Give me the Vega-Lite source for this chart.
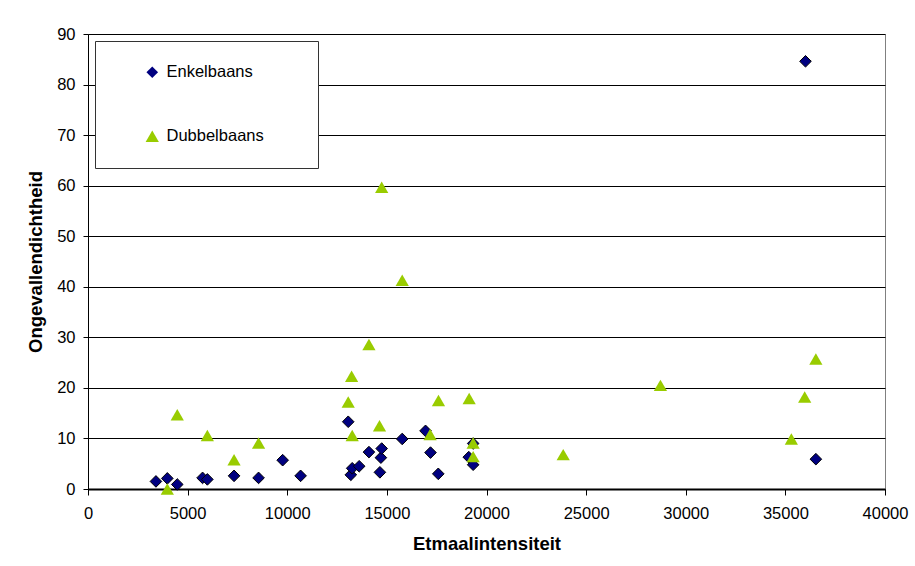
{
  "$schema": "https://vega.github.io/schema/vega-lite/v6.json",
  "width": 797,
  "height": 455,
  "autosize": {"type": "none"},
  "padding": {"left": 88, "top": 34, "right": 30, "bottom": 77},
  "background": "white",
  "data": {
    "values": [
      {"type": "Enkelbaans", "etmaal": 3410, "dichtheid": 1.5},
      {"type": "Enkelbaans", "etmaal": 3980, "dichtheid": 2.1},
      {"type": "Enkelbaans", "etmaal": 4480, "dichtheid": 0.9},
      {"type": "Enkelbaans", "etmaal": 5750, "dichtheid": 2.2},
      {"type": "Enkelbaans", "etmaal": 5990, "dichtheid": 1.9},
      {"type": "Enkelbaans", "etmaal": 7330, "dichtheid": 2.6},
      {"type": "Enkelbaans", "etmaal": 8560, "dichtheid": 2.2},
      {"type": "Enkelbaans", "etmaal": 9770, "dichtheid": 5.7},
      {"type": "Enkelbaans", "etmaal": 10670, "dichtheid": 2.6},
      {"type": "Enkelbaans", "etmaal": 13060, "dichtheid": 13.3},
      {"type": "Enkelbaans", "etmaal": 13190, "dichtheid": 2.8},
      {"type": "Enkelbaans", "etmaal": 13260, "dichtheid": 4.1},
      {"type": "Enkelbaans", "etmaal": 13610, "dichtheid": 4.5},
      {"type": "Enkelbaans", "etmaal": 14100, "dichtheid": 7.3},
      {"type": "Enkelbaans", "etmaal": 14650, "dichtheid": 3.3},
      {"type": "Enkelbaans", "etmaal": 14700, "dichtheid": 6.2},
      {"type": "Enkelbaans", "etmaal": 14740, "dichtheid": 8.0},
      {"type": "Enkelbaans", "etmaal": 15770, "dichtheid": 9.9},
      {"type": "Enkelbaans", "etmaal": 16940, "dichtheid": 11.5},
      {"type": "Enkelbaans", "etmaal": 17190, "dichtheid": 7.2},
      {"type": "Enkelbaans", "etmaal": 17580, "dichtheid": 3.0},
      {"type": "Enkelbaans", "etmaal": 19110, "dichtheid": 6.3},
      {"type": "Enkelbaans", "etmaal": 19330, "dichtheid": 4.8},
      {"type": "Enkelbaans", "etmaal": 19330, "dichtheid": 9.0},
      {"type": "Enkelbaans", "etmaal": 36010, "dichtheid": 84.6},
      {"type": "Enkelbaans", "etmaal": 36530, "dichtheid": 5.9},
      {"type": "Dubbelbaans", "etmaal": 3980, "dichtheid": 0.0},
      {"type": "Dubbelbaans", "etmaal": 4480, "dichtheid": 14.7},
      {"type": "Dubbelbaans", "etmaal": 5990, "dichtheid": 10.6},
      {"type": "Dubbelbaans", "etmaal": 7330, "dichtheid": 5.8},
      {"type": "Dubbelbaans", "etmaal": 8560, "dichtheid": 9.1},
      {"type": "Dubbelbaans", "etmaal": 13060, "dichtheid": 17.2},
      {"type": "Dubbelbaans", "etmaal": 13230, "dichtheid": 22.3},
      {"type": "Dubbelbaans", "etmaal": 13260, "dichtheid": 10.6},
      {"type": "Dubbelbaans", "etmaal": 14100, "dichtheid": 28.6},
      {"type": "Dubbelbaans", "etmaal": 14630, "dichtheid": 12.5},
      {"type": "Dubbelbaans", "etmaal": 14740, "dichtheid": 59.7},
      {"type": "Dubbelbaans", "etmaal": 15770, "dichtheid": 41.3},
      {"type": "Dubbelbaans", "etmaal": 17170, "dichtheid": 10.8},
      {"type": "Dubbelbaans", "etmaal": 17590, "dichtheid": 17.5},
      {"type": "Dubbelbaans", "etmaal": 19130, "dichtheid": 17.9},
      {"type": "Dubbelbaans", "etmaal": 19330, "dichtheid": 9.1},
      {"type": "Dubbelbaans", "etmaal": 19330, "dichtheid": 6.4},
      {"type": "Dubbelbaans", "etmaal": 23850, "dichtheid": 6.8},
      {"type": "Dubbelbaans", "etmaal": 28730, "dichtheid": 20.5},
      {"type": "Dubbelbaans", "etmaal": 35300, "dichtheid": 9.9},
      {"type": "Dubbelbaans", "etmaal": 35970, "dichtheid": 18.2},
      {"type": "Dubbelbaans", "etmaal": 36530, "dichtheid": 25.7}
    ]
  },
  "mark": {"type": "point", "filled": true, "opacity": 1, "strokeWidth": 1},
  "encoding": {
    "x": {
      "field": "etmaal",
      "type": "quantitative",
      "scale": {"domain": [0, 40000], "nice": false, "zero": true},
      "axis": {
        "title": "Etmaalintensiteit",
        "values": [0, 5000, 10000, 15000, 20000, 25000, 30000, 35000, 40000],
        "format": "d",
        "grid": false,
        "labelFlush": false,
        "labelOverlap": false,
        "tickSize": 6,
        "labelPadding": 10,
        "titlePadding": 13,
        "domainWidth": 2
      }
    },
    "y": {
      "field": "dichtheid",
      "type": "quantitative",
      "scale": {"domain": [0, 90], "nice": false},
      "axis": {
        "title": "Ongevallendichtheid",
        "values": [0, 10, 20, 30, 40, 50, 60, 70, 80, 90],
        "grid": true,
        "gridColor": "#000000",
        "gridWidth": 1,
        "gridOpacity": 1,
        "tickSize": 5,
        "labelPadding": 8,
        "titlePadding": 11,
        "domainWidth": 1
      }
    },
    "color": {
      "field": "type",
      "type": "nominal",
      "scale": {"domain": ["Enkelbaans", "Dubbelbaans"], "range": ["#000080", "#99CC00"]},
      "legend": {
        "orient": "none",
        "legendX": 7,
        "legendY": 7,
        "title": null,
        "padding": 23,
        "fillColor": "white",
        "strokeColor": "#333333",
        "rowPadding": 47,
        "symbolOffset": 26,
        "labelOffset": 6,
        "labelLimit": 300,
        "symbolSize": 120,
        "symbolStrokeWidth": 0,
        "labelExpr": "datum.label + '    \u2800'"
      }
    },
    "shape": {
      "field": "type",
      "type": "nominal",
      "scale": {"domain": ["Enkelbaans", "Dubbelbaans"], "range": ["diamond", "triangle-up"]}
    },
    "size": {
      "field": "type",
      "type": "nominal",
      "scale": {"domain": ["Enkelbaans", "Dubbelbaans"], "range": [135, 175]},
      "legend": null
    },
    "stroke": {
      "condition": {"test": "datum.type === 'Enkelbaans'", "value": "#000000"},
      "value": "transparent"
    }
  },
  "config": {
    "font": "Liberation Sans",
    "view": {"stroke": "#808080", "strokeWidth": 1},
    "axis": {
      "labelFont": "Liberation Sans",
      "labelFontSize": 16.5,
      "labelColor": "#000000",
      "titleFont": "Liberation Sans",
      "titleFontSize": 18.5,
      "titleFontWeight": "bold",
      "titleColor": "#000000",
      "domainColor": "#000000",
      "tickColor": "#000000",
      "tickWidth": 1
    },
    "legend": {
      "labelFont": "Liberation Sans",
      "labelFontSize": 16.5,
      "labelColor": "#000000"
    }
  }
}
